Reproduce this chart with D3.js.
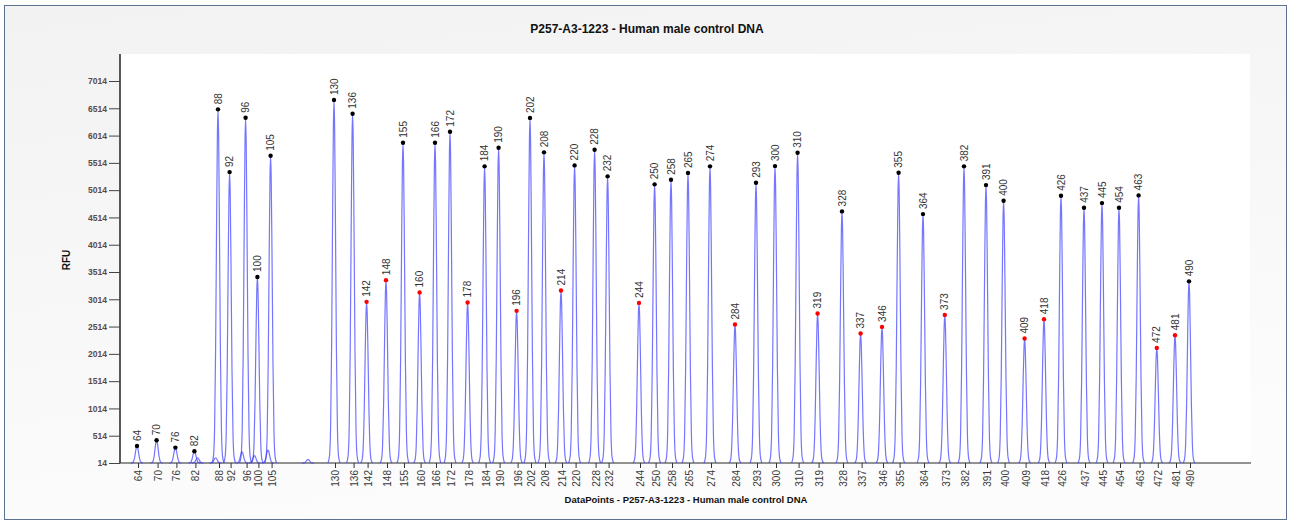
<!DOCTYPE html>
<html>
<head>
<meta charset="utf-8">
<script src="https://cdn.jsdelivr.net/npm/d3@7"></script>
<style>
  body { margin: 0; background: #fff; }
  svg { display: block; font-family: "Liberation Sans", Arial, sans-serif; }
</style>
</head>
<body>
<svg id="chart"></svg>
<script>
// fragment sizes (bp) labelled on each peak / x tick
const sizes = [64, 70, 76, 82, 88, 92, 96, 100, 105, 130, 136, 142, 148, 155, 160, 166, 172, 178, 184, 190,
    196, 202, 208, 214, 220, 228, 232, 244, 250, 258, 265, 274, 284, 293, 300, 310, 319, 328, 337, 346,
    355, 364, 373, 382, 391, 400, 409, 418, 426, 437, 445, 454, 463, 472, 481, 490];
// peak position in data points
const dataPoints = [1085, 1183, 1277, 1372, 1490, 1548, 1628, 1687, 1753, 2070, 2163, 2233, 2330, 2415, 2498, 2575, 2650, 2738, 2823, 2893,
    2983, 3050, 3120, 3205, 3273, 3373, 3438, 3595, 3673, 3755, 3840, 3950, 4075, 4180, 4275, 4388, 4488, 4610, 4703, 4810,
    4893, 5015, 5124, 5220, 5330, 5418, 5523, 5620, 5705, 5820, 5910, 5995, 6093, 6184, 6275, 6345];
// peak height (RFU)
const rfu = [326, 430, 296, 229, 6495, 5345, 6341, 3423, 5644, 6666, 6415, 2967, 3365, 5883, 3139, 5883, 6085, 2956, 5450, 5791,
    2802, 6336, 5707, 3176, 5468, 5754, 5267, 2948, 5120, 5204, 5327, 5450, 2552, 5149, 5455, 5699, 2754, 4625, 2387, 2508,
    5333, 4575, 2728, 5450, 5107, 4819, 2295, 2649, 4911, 4691, 4777, 4691, 4918, 2123, 2356, 3343];
// peaks marked red
const flagged = [142, 148, 160, 178, 196, 214, 244, 284, 319, 337, 346, 373, 409, 418, 472, 481];
// small unlabeled shoulders / noise peaks
const minorPoints = [1388, 1478, 1610, 1672, 1740, 1940];
const minorRfu = [110, 110, 220, 150, 250, 80];

const yTicks = [14, 514, 1014, 1514, 2014, 2514, 3014, 3514, 4014, 4514, 5014, 5514, 6014, 6514, 7014];

const title = "P257-A3-1223 - Human male control DNA";
const xTitle = "DataPoints - P257-A3-1223 - Human male control DNA";

const width = 1290, height = 526;
const plot = { left: 120, right: 1250, top: 54, bottom: 463 };

const svg = d3.select("#chart").attr("width", width).attr("height", height);

// background panel
const defs = svg.append("defs");
const grad = defs.append("linearGradient").attr("id", "bg").attr("x1", 0).attr("y1", 0).attr("x2", 0.3).attr("y2", 1);
grad.append("stop").attr("offset", "0%").attr("stop-color", "#f2f2f2");
grad.append("stop").attr("offset", "100%").attr("stop-color", "#fcfcfc");

svg.append("rect")
    .attr("x", 4.5).attr("y", 5.5)
    .attr("width", 1282).attr("height", 514)
    .attr("fill", "url(#bg)")
    .attr("stroke", "#5d7290")
    .attr("stroke-width", 1);

svg.append("rect")
    .attr("x", plot.left).attr("y", plot.top)
    .attr("width", plot.right - plot.left).attr("height", plot.bottom - plot.top)
    .attr("fill", "#fff");

const x = d3.scaleLinear().domain([1000, 6650]).range([plot.left, plot.right]);
const y = d3.scaleLinear().domain([14, 7509]).range([plot.bottom, plot.top]);

// peak shape: offsets in px and fraction of height
const profile = [[-6, 0], [-4.5, 0.02], [-3.4, 0.1], [-2.4, 0.32], [-1.4, 0.68], [-0.6, 0.93], [0, 1],
    [0.6, 0.93], [1.4, 0.68], [2.4, 0.32], [3.4, 0.1], [4.5, 0.02], [6, 0]];

const peaks = sizes.map((s, i) => ({ size: s, dp: dataPoints[i], h: rfu[i], red: flagged.includes(s) }));
const minor = minorPoints.map((dp, i) => ({ dp, h: minorRfu[i] }));

const line = d3.line().curve(d3.curveMonotoneX);
const peakPath = (d) => line(profile.map(([dx, f]) => [x(d.dp) + dx, y(14 + f * (d.h - 14))]));

// axes
const xAxisG = svg.append("g").attr("transform", `translate(0,${plot.bottom})`);
xAxisG.append("line")
    .attr("x1", plot.left).attr("x2", plot.right + 1)
    .attr("stroke", "#6e6e6e").attr("stroke-width", 1.5);
const xt = xAxisG.selectAll("g.xt").data(peaks).enter().append("g")
    .attr("class", "xt")
    .attr("transform", (d) => `translate(${x(d.dp) + 1.5},0)`);
xt.append("line").attr("y2", 5).attr("stroke", "#333");
xt.append("text")
    .attr("transform", "translate(0,7) rotate(-90)")
    .attr("dy", "0.35em")
    .attr("text-anchor", "end")
    .attr("font-size", "10px")
    .attr("fill", "#3a3a3a")
    .text((d) => d.size);

const yAxis = d3.axisLeft(y).tickValues(yTicks).tickSize(11).tickPadding(2).tickFormat(d3.format("d"));
const yAxisG = svg.append("g").attr("transform", `translate(${plot.left},0)`).call(yAxis);
yAxisG.select(".domain").attr("stroke", "#222").attr("stroke-width", 1.5)
    .attr("d", `M0,${plot.top}V${plot.bottom}`);
yAxisG.selectAll(".tick line").attr("stroke", "#444");
yAxisG.selectAll(".tick text")
    .attr("font-size", "8.5px")
    .attr("font-family", "'Liberation Sans', Arial, sans-serif")
    .attr("font-weight", "bold")
    .attr("fill", "#5a4a4a");

// trace
const traceG = svg.append("g");
traceG.selectAll("path.minor").data(minor).enter().append("path")
    .attr("class", "minor")
    .attr("d", peakPath)
    .attr("fill", "none").attr("stroke", "#3b3bff").attr("stroke-opacity", 0.7).attr("stroke-width", 1.2);
traceG.selectAll("path.peak").data(peaks).enter().append("path")
    .attr("class", "peak")
    .attr("d", peakPath)
    .attr("fill", "none").attr("stroke", "#3b3bff").attr("stroke-opacity", 0.7).attr("stroke-width", 1.2);

// markers and labels
const mk = svg.append("g").selectAll("g").data(peaks).enter().append("g")
    .attr("transform", (d) => `translate(${x(d.dp)},${y(d.h)})`);
mk.append("circle").attr("r", 2.2).attr("fill", (d) => (d.red ? "#ff0000" : "#000"));
mk.append("text")
    .attr("transform", "translate(0,-5) rotate(-90)")
    .attr("dy", "0.35em")
    .attr("font-size", "10px")
    .attr("fill", "#333")
    .text((d) => d.size);

// titles
svg.append("text")
    .attr("x", 647).attr("y", 33)
    .attr("text-anchor", "middle")
    .attr("font-size", "12px").attr("font-weight", "bold").attr("fill", "#111")
    .text(title);

svg.append("text")
    .attr("x", 686).attr("y", 503)
    .attr("text-anchor", "middle")
    .attr("font-size", "9.5px").attr("font-weight", "bold").attr("fill", "#111")
    .text(xTitle);

svg.append("text")
    .attr("transform", "translate(70,260) rotate(-90)")
    .attr("text-anchor", "middle")
    .attr("font-size", "10px").attr("font-weight", "bold").attr("fill", "#111")
    .text("RFU");
</script>
</body>
</html>
